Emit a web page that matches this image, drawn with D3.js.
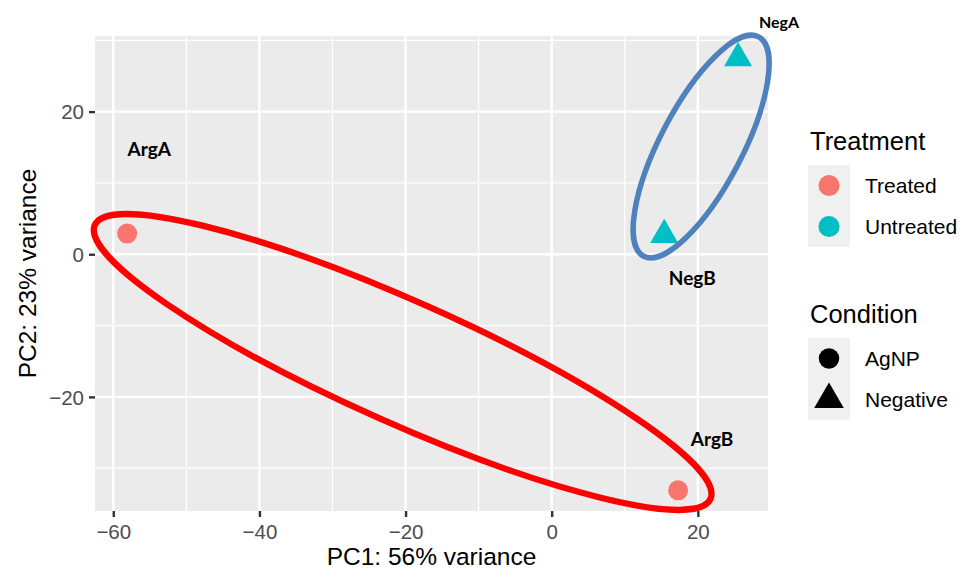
<!DOCTYPE html>
<html>
<head>
<meta charset="utf-8">
<script src="https://d3js.org/d3.v7.min.js"></script>
<style>
  body { margin: 0; background: #fff; }
  svg text { font-family: "Liberation Sans", Arial, sans-serif; }
  .tick-label { fill: #4d4d4d; font-size: 20.5px; }
  .axis-title { fill: #000; font-size: 24.5px; }
  .leg-title { fill: #000; font-size: 25.5px; }
  .leg-label { fill: #000; font-size: 21px; }
  .sample-label { font-family: Lato, "Open Sans", sans-serif !important; font-weight: bold; fill: #000; }
</style>
</head>
<body>
<div id="chart"></div>
<script>
// ---- data ----
var samples   = ["ArgA", "ArgB", "NegA", "NegB"];
var pc1       = [-58.1, 17.3, 25.5, 15.4];
var pc2       = [2.9, -33.1, 27.5, 2.7];
var treatment = ["Treated", "Treated", "Untreated", "Untreated"];
var condition = ["AgNP", "AgNP", "Negative", "Negative"];

var xTicks = [-60, -40, -20, 0, 20];
var yTicks = [-20, 0, 20];
var xMinor = [-50, -30, -10, 10];
var yMinor = [-30, -10, 10, 30];

var treatLevels = ["Treated", "Untreated"];
var treatColors = ["#F8766D", "#00BFC4"];
var condLevels  = ["AgNP", "Negative"];

// hand-drawn ellipses round the groups (annotation)
var groups = [
  { members: ["ArgA", "ArgB"], pad: 33, ry: 61, tilt: -1, color: "#FF0000", width: 6.3 },
  { members: ["NegA", "NegB"], pad: 28, ry: 41, tilt: 5,  color: "#4F81BD", width: 5.5 }
];
// label offsets from each point, px
var labelOffsets = { ArgA: [22, -78, 19], ArgB: [34, -44, 19], NegA: [41, -30, 16], NegB: [28, 50, 19] };

var width = 964, height = 569;
var panel = { left: 95, right: 768, top: 36, bottom: 511 };

var svg = d3.select("#chart").append("svg")
  .attr("width", width)
  .attr("height", height);

var x = d3.scaleLinear().domain([-62.5, 29.6]).range([panel.left, panel.right]);
var y = d3.scaleLinear().domain([-36.0, 30.6]).range([panel.bottom, panel.top]);
var color = d3.scaleOrdinal().domain(treatLevels).range(treatColors);
var shape = d3.scaleOrdinal().domain(condLevels).range([d3.symbolCircle, d3.symbolTriangle]);

var data = samples.map(function(s, i) {
  return { name: s, pc1: pc1[i], pc2: pc2[i], treatment: treatment[i], condition: condition[i] };
});

// panel background
svg.append("rect")
  .attr("x", panel.left).attr("y", panel.top)
  .attr("width", panel.right - panel.left)
  .attr("height", panel.bottom - panel.top)
  .attr("fill", "#EBEBEB");

var grid = svg.append("g");
grid.selectAll(".xminor").data(xMinor).enter().append("line")
  .attr("x1", x).attr("x2", x).attr("y1", panel.top).attr("y2", panel.bottom)
  .attr("stroke", "#fff").attr("stroke-width", 1.2);
grid.selectAll(".yminor").data(yMinor).enter().append("line")
  .attr("y1", y).attr("y2", y).attr("x1", panel.left).attr("x2", panel.right)
  .attr("stroke", "#fff").attr("stroke-width", 1.2);
grid.selectAll(".xmajor").data(xTicks).enter().append("line")
  .attr("x1", x).attr("x2", x).attr("y1", panel.top).attr("y2", panel.bottom)
  .attr("stroke", "#fff").attr("stroke-width", 2.4);
grid.selectAll(".ymajor").data(yTicks).enter().append("line")
  .attr("y1", y).attr("y2", y).attr("x1", panel.left).attr("x2", panel.right)
  .attr("stroke", "#fff").attr("stroke-width", 2.4);

// axes
var fmt = function(d) { return d < 0 ? "\u2212" + Math.abs(d) : d; };

var xAxis = svg.append("g")
  .attr("transform", "translate(0," + panel.bottom + ")")
  .call(d3.axisBottom(x).tickValues(xTicks).tickSize(6).tickPadding(6).tickFormat(fmt));
var yAxis = svg.append("g")
  .attr("transform", "translate(" + panel.left + ",0)")
  .call(d3.axisLeft(y).tickValues(yTicks).tickSize(6).tickPadding(5).tickFormat(fmt));

[xAxis, yAxis].forEach(function(a) {
  a.select(".domain").remove();
  a.selectAll(".tick line").attr("stroke", "#333").attr("stroke-width", 2.4);
  a.selectAll(".tick text").attr("class", "tick-label").attr("fill", null).attr("font-size", null).attr("font-family", null);
});
xAxis.selectAll(".tick text").attr("dy", "0.78em");
yAxis.selectAll(".tick text").attr("dy", "0.35em");

svg.append("text")
  .attr("class", "axis-title")
  .attr("x", (panel.left + panel.right) / 2)
  .attr("y", 565)
  .attr("text-anchor", "middle")
  .text("PC1: 56% variance");

svg.append("text")
  .attr("class", "axis-title")
  .attr("transform", "translate(36," + (panel.top + panel.bottom) / 2 + ") rotate(-90)")
  .attr("text-anchor", "middle")
  .text("PC2: 23% variance");

// points
svg.selectAll(".pt").data(data).enter().append("path")
  .attr("class", "pt")
  .attr("transform", function(d) { return "translate(" + x(d.pc1) + "," + y(d.pc2) + ")"; })
  .attr("d", function(d) {
    return d3.symbol().type(shape(d.condition)).size(d.condition === "AgNP" ? 314 : 340)();
  })
  .attr("fill", function(d) { return color(d.treatment); });

// group ellipses
var byName = {};
data.forEach(function(d) { byName[d.name] = d; });

svg.selectAll(".grp").data(groups).enter().append("ellipse")
  .each(function(g) {
    var a = byName[g.members[0]], b = byName[g.members[1]];
    var ax = x(a.pc1), ay = y(a.pc2), bx = x(b.pc1), by = y(b.pc2);
    var ang = Math.atan2(by - ay, bx - ax) * 180 / Math.PI + g.tilt;
    var half = Math.hypot(bx - ax, by - ay) / 2;
    d3.select(this)
      .attr("rx", half + g.pad)
      .attr("ry", g.ry)
      .attr("transform", "translate(" + (ax + bx) / 2 + "," + (ay + by) / 2 + ") rotate(" + ang + ")");
  })
  .attr("fill", "none")
  .attr("stroke", function(g) { return g.color; })
  .attr("stroke-width", function(g) { return g.width; });

// sample labels
svg.selectAll(".sample-label").data(data).enter().append("text")
  .attr("class", "sample-label")
  .attr("x", function(d) { return x(d.pc1) + labelOffsets[d.name][0]; })
  .attr("y", function(d) { return y(d.pc2) + labelOffsets[d.name][1]; })
  .attr("text-anchor", "middle")
  .style("font-size", function(d) { return labelOffsets[d.name][2] + "px"; })
  .text(function(d) { return d.name; });

// legends
var legX = 808, keyW = 42, keyH = 41;

function legend(title, titleY, keysTop, levels, drawKey) {
  var g = svg.append("g");
  g.append("text").attr("class", "leg-title").attr("x", legX + 2).attr("y", titleY).text(title);
  levels.forEach(function(lv, i) {
    var cy = keysTop + keyH * i + keyH / 2;
    g.append("rect")
      .attr("x", legX).attr("y", keysTop + keyH * i)
      .attr("width", keyW).attr("height", keyH)
      .attr("fill", "#F0F0F0");
    drawKey(g, lv, legX + keyW / 2, cy);
    g.append("text").attr("class", "leg-label")
      .attr("x", legX + 57).attr("y", cy + 7.5).text(lv);
  });
}

legend("Treatment", 150, 165, treatLevels, function(g, lv, cx, cy) {
  g.append("path")
    .attr("transform", "translate(" + cx + "," + cy + ")")
    .attr("d", d3.symbol().type(d3.symbolCircle).size(350)())
    .attr("fill", color(lv));
});

legend("Condition", 323, 338, condLevels, function(g, lv, cx, cy) {
  g.append("path")
    .attr("transform", "translate(" + cx + "," + cy + ")")
    .attr("d", d3.symbol().type(shape(lv)).size(lv === "AgNP" ? 330 : 380)())
    .attr("fill", "#000");
});
</script>
</body>
</html>
